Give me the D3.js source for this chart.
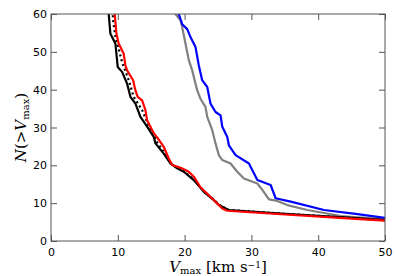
<!DOCTYPE html>
<html>
<head>
<meta charset="utf-8">
<script src="https://cdn.jsdelivr.net/npm/d3@7/dist/d3.min.js"></script>
<style>
html,body{margin:0;padding:0;background:#fff;}
svg{display:block;}
</style>
</head>
<body>
<svg id="c" width="395" height="276"></svg>
<script>
// Data: [Vmax (km/s), N(>Vmax)]
const blackSolid = [[8.64,61],[8.64,60],[8.89,54.8],[9.64,52.2],[9.99,46],[10.64,44.7],[11.39,41.6],[11.89,38.1],[12.64,36.3],[13.39,32.8],[14.39,30.2],[15.38,27.5],[15.64,25.8],[16.88,23.1],[17.88,20.5],[18.89,19.2],[19.88,18.3],[21.38,16.1],[22.88,13.0],[24.38,10.8],[25.13,9.5],[26.6,8.2],[35,7.2],[45,6.1],[51,5.4]];
const blackDotted = [[9.2,61],[9.3,58.3],[9.64,54],[10.1,51],[10.64,47.3],[11.64,42.5],[12.38,38.1],[13.64,34.6],[14.5,31],[15.4,28],[15.9,26],[16.9,23.5],[17.9,20.6],[18.9,19.3],[19.9,18.4],[21.4,16.2],[22.9,13.1],[24.4,10.9],[25.2,9.5],[26.6,8.2],[35,7.2],[45,6.1],[51,5.4]];
const red = [[9.54,61],[9.54,60],[9.79,54.9],[10.13,52.2],[10.88,49.5],[11.14,46.4],[11.39,45.1],[12.29,42.5],[12.64,39.8],[12.98,38.1],[13.64,37.2],[14.14,34.6],[14.39,31.9],[15.38,28.5],[15.89,27.4],[16.88,24.9],[17.63,21.8],[18.14,20.1],[19.64,19.2],[20.63,18.3],[21.38,17.0],[22.38,14.2],[23.63,12.1],[24.89,9.9],[25.64,8.6],[26.39,8.0],[35,7.0],[45,5.9],[51,5.3]];
const gray = [[18.5,61],[18.64,60],[19.39,58.3],[19.64,56.5],[20.13,52.2],[20.63,47.8],[21.14,45.1],[21.63,41.6],[21.89,39.8],[22.38,37.6],[23.13,35.4],[23.39,32.8],[24.14,29.3],[24.63,25.8],[25.13,22.7],[25.64,21.4],[26.88,20.5],[27.89,18.3],[28.88,16.5],[30.89,15.2],[31.64,13.5],[32.63,11.0],[33.88,10.6],[35.38,9.5],[38.38,8.2],[43.4,6.6],[51,5.6]];
const blue = [[19.0,61],[19.13,60],[19.64,57.3],[20.39,56],[20.88,53.9],[21.63,51.3],[22.13,46.4],[22.63,42.5],[23.39,40.7],[23.88,36.3],[24.63,34.1],[25.38,33.2],[25.64,30.2],[26.39,27.5],[26.63,25.3],[27.63,22.7],[29.63,20.5],[30.89,16.1],[32.88,14.8],[33.63,11.3],[35.88,10.4],[40.87,8.2],[45.9,7.1],[51,5.9]];
const xTicks = [0,10,20,30,40,50];
const yTicks = [0,10,20,30,40,50,60];

const svg = d3.select("#c");
const L = 51, R = 385, T = 14, B = 241;
const x = d3.scaleLinear().domain([0,50]).range([L,R]);
const y = d3.scaleLinear().domain([0,60]).range([B,T]);

svg.append("clipPath").attr("id","clip").append("rect")
  .attr("x",L).attr("y",T).attr("width",R-L).attr("height",B-T);

const line = d3.line().x(d=>x(d[0])).y(d=>y(d[1]));
const g = svg.append("g").attr("clip-path","url(#clip)");
const series = [
  {d:gray, c:"#808080", w:2.2},
  {d:blue, c:"#0000ff", w:2.2},
  {d:blackSolid, c:"#000", w:2.2},
  {d:blackDotted, c:"#000", w:2.2, dash:"2,3"},
  {d:red, c:"#ff0000", w:2.2}
];
series.forEach(s=>{
  g.append("path").attr("d",line(s.d)).attr("fill","none")
   .attr("stroke",s.c).attr("stroke-width",s.w)
   .attr("stroke-linejoin","round")
   .attr("stroke-dasharray",s.dash||null);
});

const axColor = "#555";
svg.append("rect").attr("x",L).attr("y",T).attr("width",R-L).attr("height",B-T)
  .attr("fill","none").attr("stroke",axColor).attr("stroke-width",1);

const font = "DejaVu Sans, sans-serif";
const xb = svg.append("g").attr("transform",`translate(0,${B})`)
  .call(d3.axisBottom(x).tickValues(xTicks).tickSizeInner(-6).tickSizeOuter(0).tickPadding(7).tickFormat(d3.format("d")));
const xt = svg.append("g").attr("transform",`translate(0,${T})`)
  .call(d3.axisTop(x).tickValues(xTicks).tickSizeInner(-6).tickSizeOuter(0).tickFormat(""));
const yl = svg.append("g").attr("transform",`translate(${L},0)`)
  .call(d3.axisLeft(y).tickValues(yTicks).tickSizeInner(-6).tickSizeOuter(0).tickPadding(4).tickFormat(d3.format("d")));
const yr = svg.append("g").attr("transform",`translate(${R},0)`)
  .call(d3.axisRight(y).tickValues(yTicks).tickSizeInner(-6).tickSizeOuter(0).tickFormat(""));
[xb,xt,yl,yr].forEach(a=>{
  a.select(".domain").remove();
  a.selectAll("line").attr("stroke",axColor);
  a.selectAll("text").attr("fill","#000").style("font-family",font).style("font-size","11px");
});

const serif = "DejaVu Serif, Liberation Serif, serif";
const xl = svg.append("text").attr("x",(L+R)/2).attr("y",272).attr("text-anchor","middle")
  .style("font-family",serif).style("font-size","15px").attr("fill","#000");
xl.append("tspan").text("V").style("font-style","italic");
xl.append("tspan").text("max").attr("dy",1.5).style("font-size","10px");
xl.append("tspan").text(" [km s").attr("dy",-1.5);
xl.append("tspan").text("−1").attr("dy",-4.5).style("font-size","9px");
xl.append("tspan").text("]").attr("dy",4.5);

const ylab = svg.append("text").attr("transform",`translate(26,${(T+B)/2}) rotate(-90)`)
  .attr("text-anchor","middle").style("font-family",serif).style("font-size","15px").attr("fill","#000");
ylab.append("tspan").text("N").style("font-style","italic");
ylab.append("tspan").text("(>");
ylab.append("tspan").text("V").style("font-style","italic");
ylab.append("tspan").text("max").attr("dy",3).style("font-size","10px");
ylab.append("tspan").text(")").attr("dy",-3);
</script>
</body>
</html>
